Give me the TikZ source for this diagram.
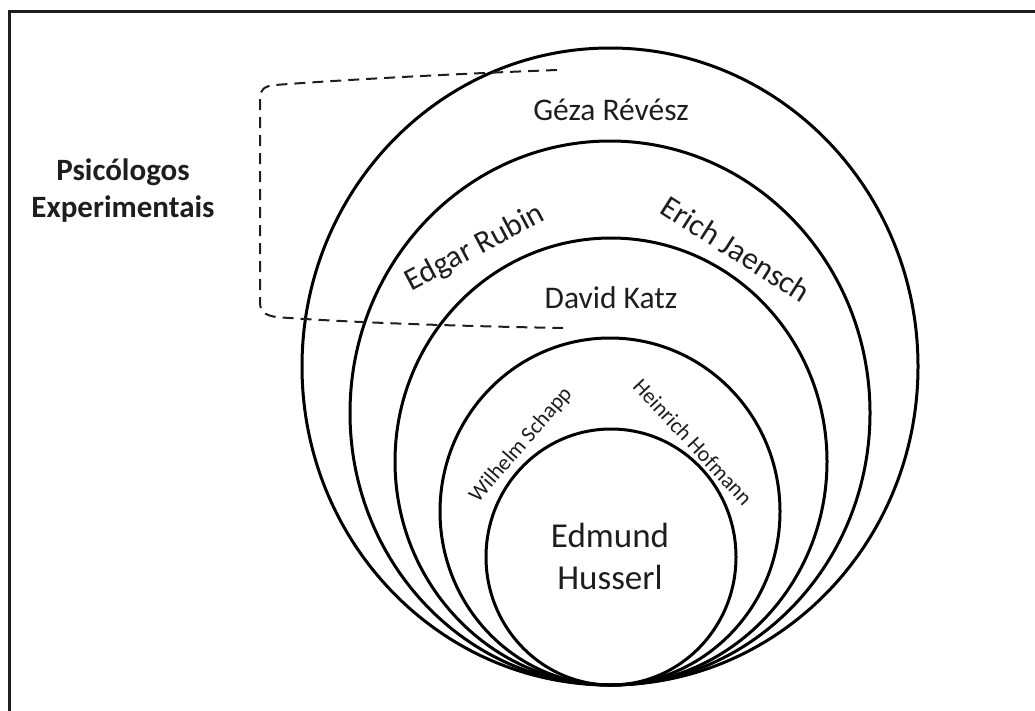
\documentclass[tikz,border=0pt]{standalone}
\usepackage{fontspec}
\setmainfont{Carlito}
\definecolor{ink}{HTML}{1E1E1E}
\begin{document}
\begin{tikzpicture}[x=1pt,y=-1pt,
  ring/.style={draw=black,line width=3pt},
  bigname/.style={text=ink,font=\fontsize{31.5}{38}\selectfont,inner sep=0pt},
  smallname/.style={text=ink,font=\fontsize{22}{26}\selectfont,inner sep=0pt},
  dashline/.style={draw=ink,line width=2pt,dash pattern=on 11pt off 7pt}]
\useasboundingbox (0,0) rectangle (1035,710);
% frame
\draw[line width=3pt,draw=ink] (9,712) -- (9,11) -- (1037,11);
% nested ellipses tangent at bottom (610,685)
\draw[ring] (610,366.5) ellipse [x radius=308, y radius=318.5];
\draw[ring] (610,413) ellipse [x radius=260, y radius=272];
\draw[ring] (611,461.5) ellipse [x radius=216, y radius=223.5];
\draw[ring] (610,511.5) ellipse [x radius=170, y radius=173.5];
\draw[ring] (611,557) ellipse [x radius=125, y radius=128];
% dashed bracket
\draw[dashline] (557,70) .. controls (450,74) and (340,80) .. (275,85)
  .. controls (264,86) and (260,90) .. (260,98) -- (260,302)
  .. controls (260,311) and (264,315) .. (276,317)
  .. controls (340,322) and (450,326) .. (563,328);
% labels
\node[bigname] (geza) at (611,110) {Géza Révész};
\node[bigname,rotate=28] (rubin) at (475,248) {Edgar Rubin};
\node[bigname,rotate=-32.5] (jaensch) at (736,249) {Erich Jaensch};
\node[bigname] (katz) at (611,298) {David Katz};
\node[smallname,rotate=49] (schapp) at (521,445) {Wilhelm Schapp};
\node[smallname,rotate=-47] (hofmann) at (693,442) {Heinrich Hofmann};
\node[text=ink,font=\fontsize{35}{42}\selectfont,align=center,inner sep=0pt] (husserl) at (610,556) {Edmund\\Husserl};
\node[text=ink,font=\bfseries\fontsize{31}{37}\selectfont,align=center,inner sep=0pt] (psi) at (123,191) {Psicólogos\\Experimentais};
\end{tikzpicture}
\end{document}
